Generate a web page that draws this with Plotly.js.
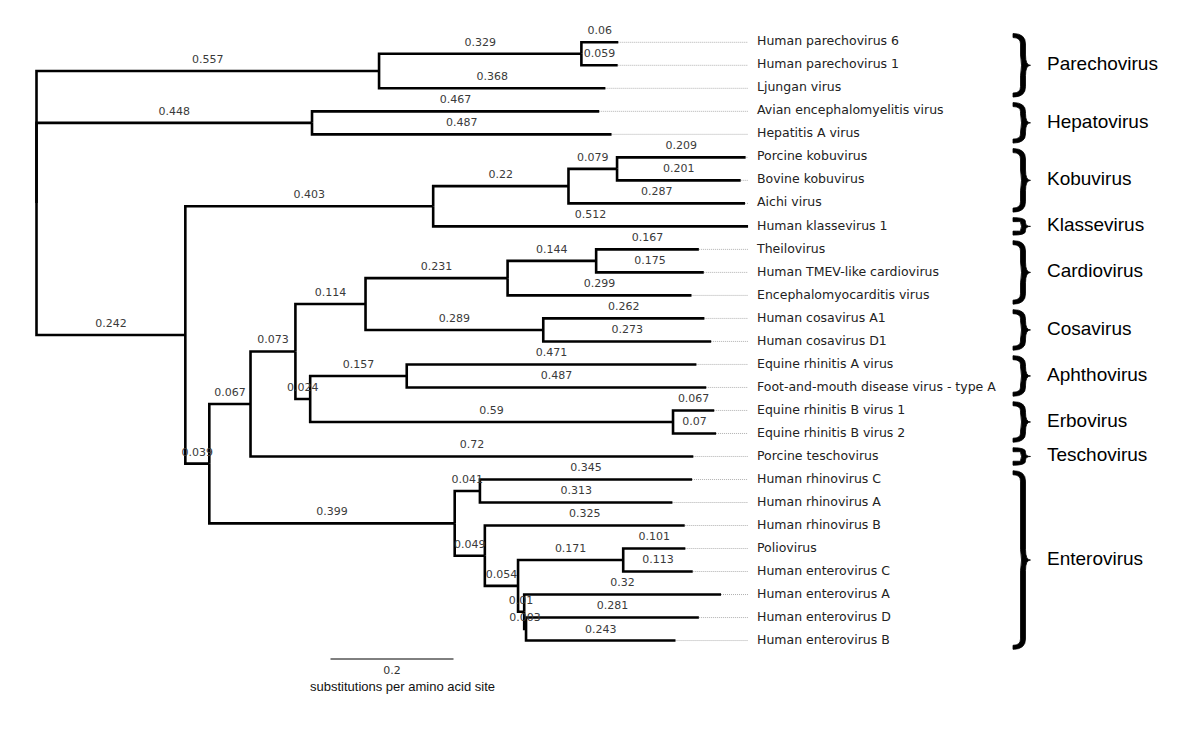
<!DOCTYPE html>
<html><head><meta charset="utf-8">
<script src="https://cdn.plot.ly/plotly-3.0.1.min.js"></script>
<style>html,body{margin:0;padding:0;background:#fff}#chart{width:1200px;height:730px}</style>
</head><body><div id="chart"></div>
<script>
// ---- DATA ----
const nodeNames = ['', '', '', 'Human parechovirus 6', 'Human parechovirus 1', 'Ljungan virus', '', 'Avian encephalomyelitis virus', 'Hepatitis A virus', '', '', '', '', 'Porcine kobuvirus', 'Bovine kobuvirus', 'Aichi virus', 'Human klassevirus 1', '', '', '', '', '', '', 'Theilovirus', 'Human TMEV-like cardiovirus', 'Encephalomyocarditis virus', '', 'Human cosavirus A1', 'Human cosavirus D1', '', '', 'Equine rhinitis A virus', 'Foot-and-mouth disease virus - type A', '', 'Equine rhinitis B virus 1', 'Equine rhinitis B virus 2', 'Porcine teschovirus', '', '', 'Human rhinovirus C', 'Human rhinovirus A', '', 'Human rhinovirus B', '', '', 'Poliovirus', 'Human enterovirus C', '', 'Human enterovirus A', '', 'Human enterovirus D', 'Human enterovirus B'];
const nodeParents = [-1, 0, 1, 2, 2, 1, 0, 6, 6, 0, 9, 10, 11, 12, 12, 11, 10, 9, 17, 18, 19, 20, 21, 22, 22, 21, 20, 26, 26, 19, 29, 30, 30, 29, 33, 33, 18, 17, 37, 38, 38, 37, 41, 41, 43, 44, 44, 43, 47, 47, 49, 49];
const branchLengths = [0, 0.557, 0.329, 0.06, 0.059, 0.368, 0.448, 0.467, 0.487, 0.242, 0.403, 0.22, 0.079, 0.209, 0.201, 0.287, 0.512, 0.039, 0.067, 0.073, 0.114, 0.231, 0.144, 0.167, 0.175, 0.299, 0.289, 0.262, 0.273, 0.024, 0.157, 0.471, 0.487, 0.59, 0.067, 0.07, 0.72, 0.399, 0.041, 0.345, 0.313, 0.049, 0.325, 0.054, 0.171, 0.101, 0.113, 0.01, 0.32, 0.003, 0.281, 0.243];
const groupNames = ['Parechovirus', 'Hepatovirus', 'Kobuvirus', 'Klassevirus', 'Cardiovirus', 'Cosavirus', 'Aphthovirus', 'Erbovirus', 'Teschovirus', 'Enterovirus'];
const groupFirstTip = [0, 3, 5, 8, 9, 12, 14, 16, 18, 19];
const groupLastTip = [2, 4, 7, 8, 11, 13, 15, 17, 18, 26];
const scaleBarLength = 0.2;
const scaleBarLabel = '0.2';
const scaleBarUnit = 'substitutions per amino acid site';

// ---- LAYOUT CONSTANTS (pixels) ----
const W = 1200, H = 730;
const PX_PER_UNIT = 615, ROOT_PX = 36.5;
const ROW0_PX = 42.3, ROW_PX = 23.01;
const toX = px => (px - ROOT_PX) / PX_PER_UNIT;
const toRow = py => (py - ROW0_PX) / ROW_PX;

// ---- TREE LAYOUT ----
const n = nodeNames.length;
const children = Array.from({length: n}, () => []);
nodeParents.forEach((p, i) => { if (p >= 0) children[p].push(i); });
const nx = new Array(n), ny = new Array(n);
let tipCounter = 0;
function place(i, x) {
  nx[i] = x;
  if (children[i].length === 0) { ny[i] = tipCounter++; return; }
  children[i].forEach(c => place(c, x + branchLengths[c]));
  const cs = children[i];
  ny[i] = (ny[cs[0]] + ny[cs[cs.length - 1]]) / 2;
}
place(0, 0);

// branches
const bx = [], by = [];
for (let i = 1; i < n; i++) {
  const p = nodeParents[i];
  bx.push(nx[p], nx[p], nx[i], null);
  by.push(ny[p], ny[i], ny[i], null);
}
// branch length labels
const lx = [], ly = [], lt = [];
for (let i = 1; i < n; i++) {
  const p = nodeParents[i];
  lx.push((nx[p] + nx[i]) / 2);
  ly.push(ny[i] - 0.47);
  lt.push(String(branchLengths[i]));
}
// tips
const leaderEnd = toX(748), tipLabelX = toX(757);
const dx = [], dy = [], tx = [], ty = [], tt = [];
for (let i = 0; i < n; i++) {
  if (children[i].length) continue;
  if (nx[i] < leaderEnd) { dx.push(nx[i], leaderEnd, null); dy.push(ny[i], ny[i], null); }
  tx.push(tipLabelX); ty.push(ny[i]); tt.push(nodeNames[i]);
}

// group braces
const braceX = toX(1013), groupLabelX = toX(1047);
const shapes = [];
const gx = [], gy = [];
const endT = 4 / ROW_PX; // blunt terminal thickness (rows)
groupNames.forEach((g, k) => {
  const t = groupFirstTip[k] - 0.38, b = groupLastTip[k] + 0.38, m = (t + b) / 2;
  const r = Math.min(0.45, (m - t) * 0.45);
  const path =
    `M 0 ${t} Q 12.5 ${t} 12.5 ${t + r} L 12.5 ${m - r} Q 12.5 ${m} 17.5 ${m} ` +
    `Q 12.5 ${m} 12.5 ${m + r} L 12.5 ${b - r} Q 12.5 ${b} 0 ${b} ` +
    `L 0 ${b - endT} Q 7.5 ${b - endT} 7.5 ${b - r} L 7.5 ${m + r} Q 9.5 ${m} 7.5 ${m - r} ` +
    `L 7.5 ${t + r} Q 7.5 ${t + endT} 0 ${t + endT} Z`;
  shapes.push({type: 'path', xref: 'x', yref: 'y', xsizemode: 'pixel', xanchor: braceX, path,
    fillcolor: '#000', line: {color: '#000', width: 0.8}});
  gx.push(groupLabelX); gy.push((groupFirstTip[k] + groupLastTip[k]) / 2);
});

// scale bar
const sbX0 = toX(330.5), sbRow = toRow(659);

const traces = [
  {type: 'scatter', mode: 'lines', x: dx, y: dy, line: {color: '#b0b0b0', width: 1, dash: '1px,1px'}, hoverinfo: 'skip'},
  {type: 'scatter', mode: 'lines', x: bx, y: by, line: {color: '#000', width: 2.6}, hoverinfo: 'skip'},
  {type: 'scatter', mode: 'text', x: lx, y: ly, text: lt, textposition: 'middle center',
   textfont: {family: 'DejaVu Sans', size: 11, color: '#3a3a3a'}, hoverinfo: 'skip'},
  {type: 'scatter', mode: 'text', x: tx, y: ty, text: tt, textposition: 'middle right',
   textfont: {family: 'DejaVu Sans', size: 12.5, color: '#222'}, hoverinfo: 'skip'},
  {type: 'scatter', mode: 'text', x: gx, y: gy, text: groupNames, textposition: 'middle right',
   textfont: {family: 'Liberation Sans', size: 19, color: '#000'}, hoverinfo: 'skip'},
  {type: 'scatter', mode: 'lines', x: [sbX0, sbX0 + scaleBarLength], y: [sbRow, sbRow], line: {color: '#000', width: 1}, hoverinfo: 'skip'},
  {type: 'scatter', mode: 'text', x: [sbX0 + scaleBarLength / 2], y: [toRow(671)], text: [scaleBarLabel], textposition: 'middle center',
   textfont: {family: 'DejaVu Sans', size: 11, color: '#333'}, hoverinfo: 'skip'},
  {type: 'scatter', mode: 'text', x: [toX(402.5)], y: [toRow(688)], text: [scaleBarUnit], textposition: 'middle center',
   textfont: {family: 'Liberation Sans', size: 13, color: '#111'}, hoverinfo: 'skip'}
];

const layout = {
  width: W, height: H, margin: {l: 0, r: 0, t: 0, b: 0},
  paper_bgcolor: '#fff', plot_bgcolor: '#fff', showlegend: false, hovermode: false,
  xaxis: {range: [toX(0), toX(W)], visible: false, fixedrange: true},
  yaxis: {range: [toRow(H), toRow(0)], visible: false, fixedrange: true},
  shapes
};
Plotly.newPlot('chart', traces, layout, {staticPlot: true, displayModeBar: false});
</script>
</body></html>
